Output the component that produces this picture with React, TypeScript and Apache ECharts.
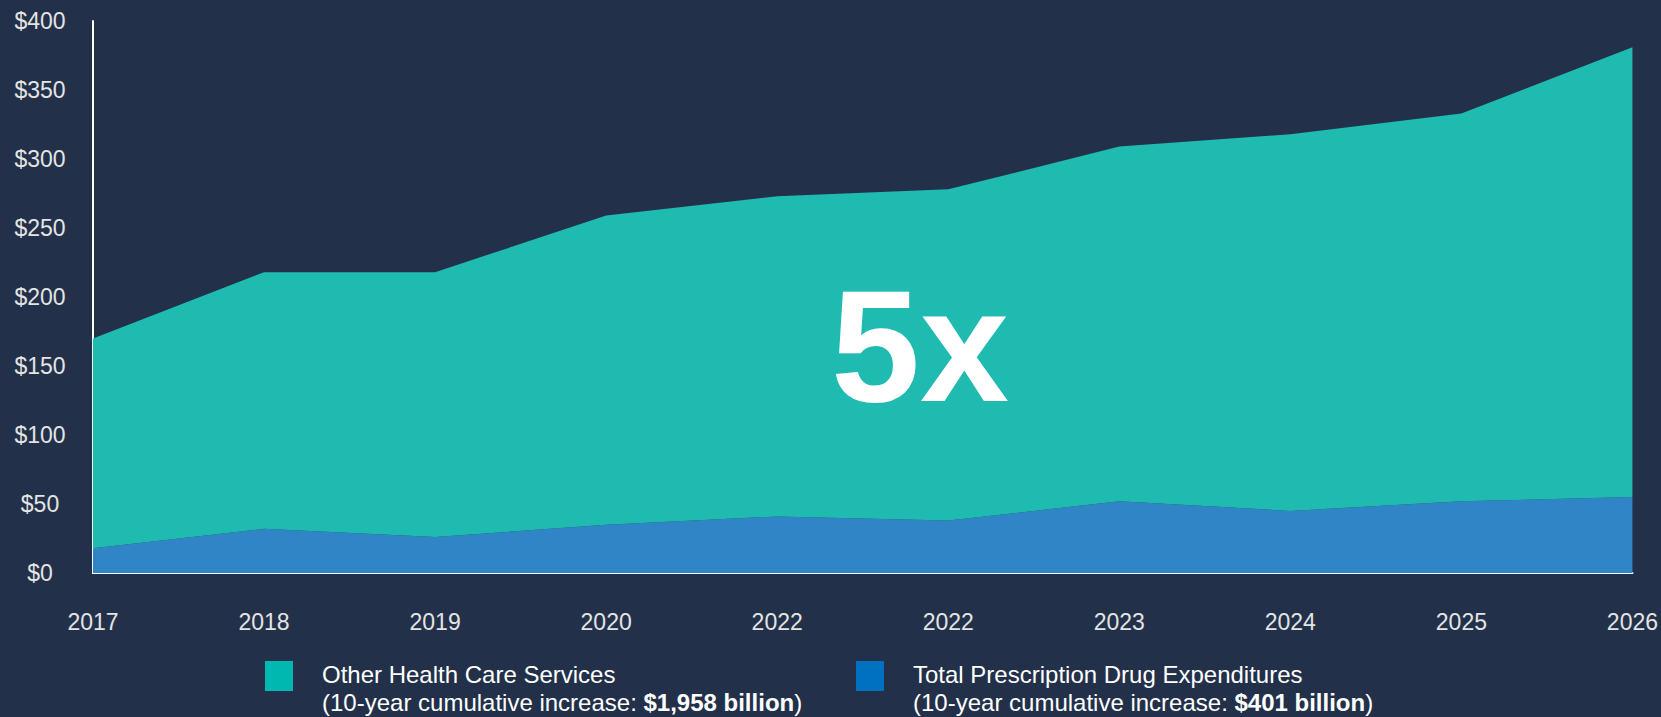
import React, { useEffect, useRef } from "react";
import * as echarts from "echarts";

const categories = ["2017", "2018", "2019", "2020", "2022", "2022", "2023", "2024", "2025", "2026"];
const drugSpending = [18, 32, 26, 35, 41, 38, 52, 45, 52, 55];
const otherServices = [152, 186, 192, 224, 232, 240, 257, 273, 281, 326];
const yTicks = { min: 0, max: 400, interval: 50 };
const legendItems = [
  { name: "Other Health Care Services", amount: "$1,958 billion", color: "#00B8B0" },
  { name: "Total Prescription Drug Expenditures", amount: "$401 billion", color: "#0070C0" },
];
const bigLabel = "5x";

const BG = "#223149";
const FONT = "'Liberation Sans', Arial, sans-serif";

export default function App() {
  const ref = useRef<HTMLDivElement>(null);
  useEffect(() => {
    if (!ref.current) return;
    const chart = echarts.init(ref.current, undefined, { renderer: "svg" });
    const legendX = [265, 856];
    const graphics: any[] = [];
    legendItems.forEach((it, i) => {
      graphics.push({
        type: "rect",
        shape: { x: legendX[i], y: 661, width: 28, height: 30 },
        style: { fill: it.color },
      });
      graphics.push({
        type: "text",
        x: legendX[i] + 57,
        y: 660,
        style: {
          text: `{a|${it.name}}\n{a|(10-year cumulative increase: }{b|${it.amount}}{a|)}`,
          rich: {
            a: { fontSize: 24, fontFamily: FONT, fill: "#FFFFFF", lineHeight: 28 },
            b: { fontSize: 24, fontFamily: FONT, fill: "#FFFFFF", fontWeight: "bold", lineHeight: 28 },
          },
          textVerticalAlign: "top",
        },
      });
    });
    graphics.push({
      type: "text",
      x: 920,
      y: 345,
      z: 100,
      style: {
        text: bigLabel,
        fontSize: 160,
        fontWeight: "bold",
        fontFamily: FONT,
        fill: "#FFFFFF",
        textAlign: "center",
        textVerticalAlign: "middle",
      },
    });
    chart.setOption({
      animation: false,
      backgroundColor: BG,
      grid: { left: 93, right: 24, top: 21, bottom: 144, containLabel: false },
      xAxis: {
        type: "category",
        data: categories,
        boundaryGap: false,
        axisLine: { show: true, lineStyle: { color: "#FFFFFF", width: 2 } },
        axisTick: { show: false },
        axisLabel: {
          interval: 0,
          margin: 37,
          fontSize: 23,
          fontFamily: FONT,
          color: "#E4E4E4",
        },
        splitLine: { show: false },
      },
      yAxis: {
        type: "value",
        min: yTicks.min,
        max: yTicks.max,
        interval: yTicks.interval,
        axisLine: { show: true, lineStyle: { color: "#FFFFFF", width: 2 } },
        axisTick: { show: false },
        splitLine: { show: false },
        axisLabel: {
          margin: 53,
          align: "center",
          fontSize: 23,
          fontFamily: FONT,
          color: "#E4E4E4",
          formatter: (v: number) => `$${v}`,
        },
      },
      series: [
        {
          name: "Total Prescription Drug Expenditures",
          type: "line",
          stack: "total",
          data: drugSpending,
          showSymbol: false,
          lineStyle: { width: 0 },
          areaStyle: { color: "#3085C6", opacity: 1 },
          itemStyle: { color: "#3085C6" },
        },
        {
          name: "Other Health Care Services",
          type: "line",
          stack: "total",
          data: otherServices,
          showSymbol: false,
          lineStyle: { width: 0 },
          areaStyle: { color: "#1FBBB1", opacity: 1 },
          itemStyle: { color: "#1FBBB1" },
        },
      ],
      graphic: graphics,
    });
    return () => chart.dispose();
  }, []);
  return (
    <div
      ref={ref}
      style={{ position: "fixed", left: 0, top: 0, width: 1661, height: 717, background: BG }}
    />
  );
}
